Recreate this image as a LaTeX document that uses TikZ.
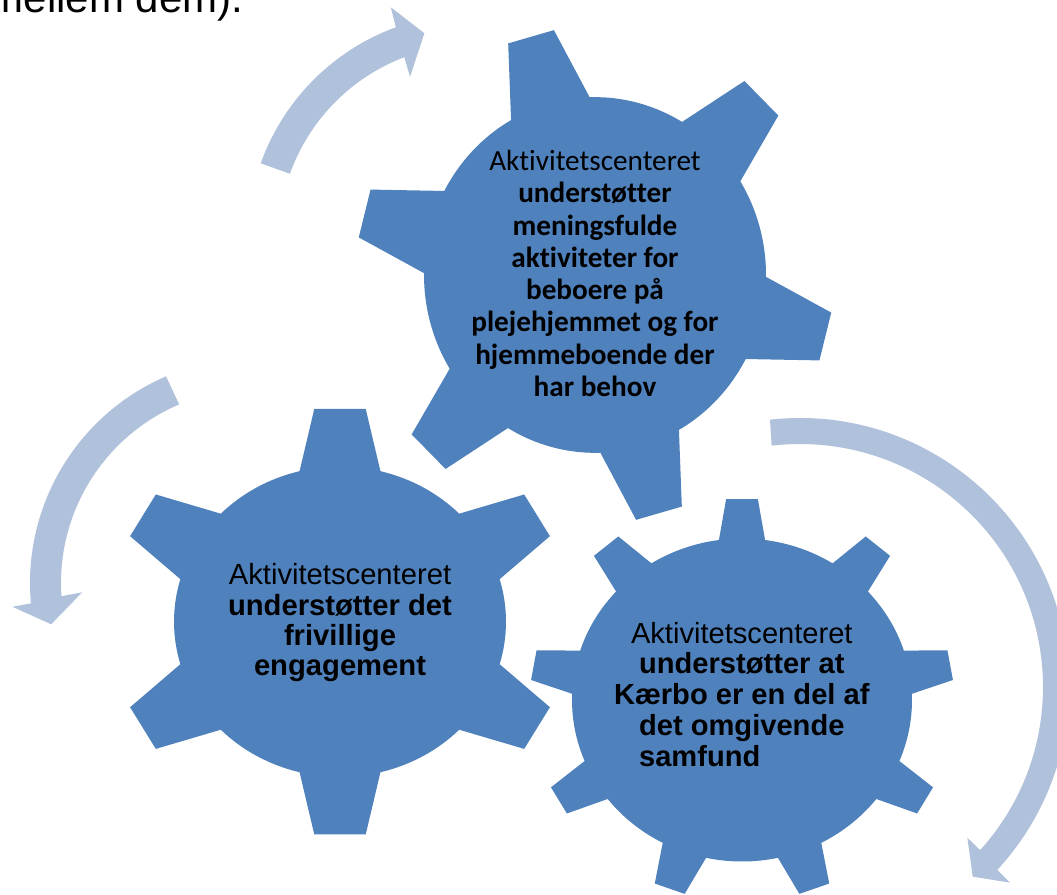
\documentclass[tikz,border=0pt]{standalone}
\usepackage{fontspec}
\setmainfont{Liberation Sans}
\newfontfamily\calibrifont[Ligatures=NoCommon]{Carlito}
\usetikzlibrary{calc}
\definecolor{gearblue}{HTML}{4F81BD}
\definecolor{arrowblue}{HTML}{B0C1DC}
\tikzset{
  gear/.style={fill=gearblue},
  cyclearrow/.style={fill=arrowblue},
  geartext/.style={anchor=base, inner sep=0pt, text=black}
}
% #1,#2 centre  #3 teeth  #4 first tooth angle  #5 body radius  #6 tip radius
% #7 half angle at base  #8 half angle at tip  #9 vertical stretch
\newcommand{\drawgear}[9]{%
  \begin{scope}[shift={(#1,#2)},yscale=#9]
    \fill[gear] ({#4-#7}:#5)
      \foreach \k in {1,...,#3}{
        -- ({#4+(\k-1)*360/#3-#8}:#6)
        -- ({#4+(\k-1)*360/#3+#8}:#6)
        -- ({#4+(\k-1)*360/#3+#7}:#5)
        arc[start angle={#4+(\k-1)*360/#3+#7}, end angle={#4+\k*360/#3-#7}, radius=#5]
      } -- cycle;
  \end{scope}}
\begin{document}
\begin{tikzpicture}[x=1pt,y=1pt]
  \useasboundingbox (0,0) rectangle (1057,894);
  \clip (0,0) rectangle (1057,894);

  % cut-off text at the top
  \node[anchor=base east, inner sep=0pt] (introtext) at (243.5,881)
    {\fontsize{42}{48}\selectfont mellem dem).};

  % circular arrows
  \begin{scope}[shift={(473.5,654.5)}]
    \fill[cyclearrow] (160.3:226) arc[start angle=160.3, end angle=110.1, radius=226]
      -- (109.6:246.5) -- (103.4:212) -- (111.3:174.7) -- (110.8:195)
      arc[start angle=110.8, end angle=160.3, radius=195] -- cycle;
  \end{scope}
  \begin{scope}[shift={(255,311)}]
    \fill[cyclearrow] (113.3:225) arc[start angle=113.3, end angle=185.2, radius=225]
      -- (185.6:243.7) -- (191.45:208) -- (183.1:173.1) -- (183.9:194)
      arc[start angle=183.9, end angle=113.0, radius=194] -- cycle;
  \end{scope}
  \begin{scope}[shift={(800,207)}]
    \fill[cyclearrow] (96.4:269) arc[start angle=96.4, end angle=-42.85, radius=269]
      -- (-42.98:287) -- (-47.68:256.5) -- (-42.0:225.2) -- (-42.16:243)
      arc[start angle=-42.16, end angle=96.7, radius=243] -- cycle;
  \end{scope}

  % gears
  \drawgear{595}{619}{6}{105.6}{171}{239}{13.8}{5.7}{1.04}
  \drawgear{340}{272.3}{6}{90}{166}{229}{14.1}{6.45}{0.935}
  \drawgear{742}{194}{9}{90}{170}{212}{7.8}{4.3}{0.95}

  % texts
  \node[geartext] (toptext) at (595,723.5) {\calibrifont\fontsize{29.2}{32.3}\selectfont
    \begin{tabular}[t]{@{}c@{}}
      Aktivitetscenteret\\
      \textbf{understøtter}\\
      \textbf{meningsfulde}\\
      \textbf{aktiviteter for}\\
      \textbf{beboere på}\\
      \textbf{plejehjemmet og for}\\
      \textbf{hjemmeboende der}\\
      \textbf{har behov}
    \end{tabular}};
  \node[geartext] (lefttext) at (340,309) {\fontsize{29.2}{30.1}\selectfont
    \begin{tabular}[t]{@{}c@{}}
      Aktivitetscenteret\\
      \textbf{understøtter det}\\
      \textbf{frivillige}\\
      \textbf{engagement}
    \end{tabular}};
  \node[geartext] (righttext) at (741.8,250.7) {\fontsize{29.1}{30.7}\selectfont
    \begin{tabular}[t]{@{}c@{}}
      Aktivitetscenteret\\
      \textbf{understøtter at}\\
      \textbf{Kærbo er en del af}\\
      \textbf{det omgivende}\\
      \rlap{\textbf{samfund}}\phantom{\textbf{det omgivende}}
    \end{tabular}};
\end{tikzpicture}
\end{document}
